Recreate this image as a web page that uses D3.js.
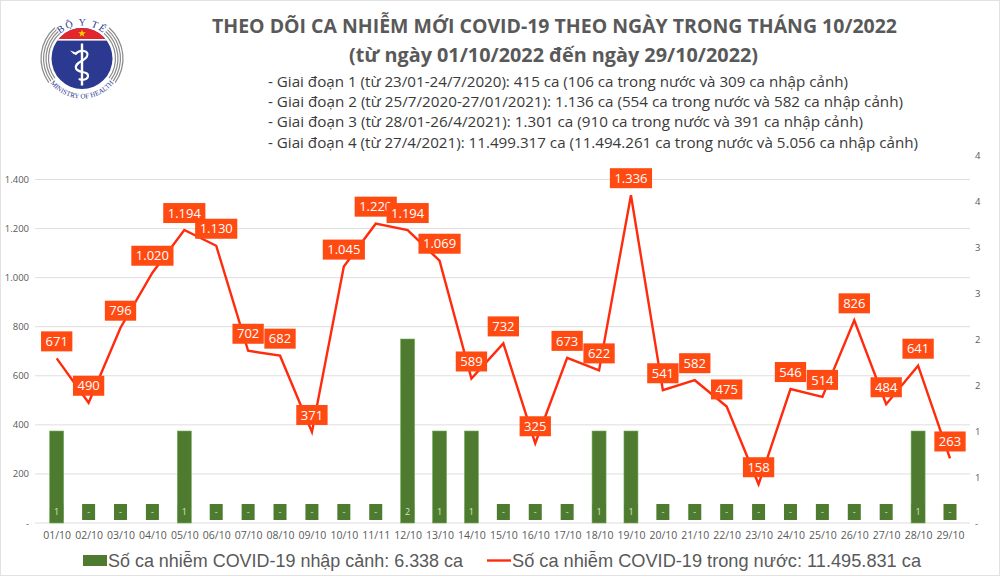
<!DOCTYPE html>
<html><head><meta charset="utf-8">
<script src="https://cdn.jsdelivr.net/npm/d3@7"></script>
<style>html,body{margin:0;padding:0;background:#fff;} svg{display:block}</style>
</head><body><svg id="c" width="1000" height="576"></svg>
<script>
// ---------- data ----------
const dates = ["01/10","02/10","03/10","04/10","05/10","06/10","07/10","08/10","09/10","10/10",
  "11/11","12/10","13/10","14/10","15/10","16/10","17/10","18/10","19/10","20/10",
  "21/10","22/10","23/10","24/10","25/10","26/10","27/10","28/10","29/10"];
const domestic = [671,490,796,1020,1194,1130,702,682,371,1045,1220,1194,1069,589,732,325,673,622,1336,541,582,475,158,546,514,826,484,641,263];
const imported = [1,0,0,0,1,0,0,0,0,0,0,2,1,1,0,0,0,1,1,0,0,0,0,0,0,0,0,1,0];
const leftTicks = [0,200,400,600,800,1000,1200,1400];
const leftTickLabels = ["-","200","400","600","800","1.000","1.200","1.400"];
const rightTicks = [0,0.5,1,1.5,2,2.5,3,3.5,4];
const rightTickLabels = ["-","1","1","2","2","3","3","4","4"];
const titleLines = ["THEO DÕI CA NHIỄM MỚI COVID-19 THEO NGÀY TRONG THÁNG 10/2022",
  "(từ ngày 01/10/2022 đến ngày 29/10/2022)"];
const phaseLines = [
  "- Giai đoạn 1 (từ 23/01-24/7/2020): 415 ca (106 ca trong nước và 309 ca nhập cảnh)",
  "- Giai đoạn 2 (từ 25/7/2020-27/01/2021): 1.136 ca (554 ca trong nước và 582 ca nhập cảnh)",
  "- Giai đoạn 3 (từ 28/01-26/4/2021): 1.301 ca (910 ca trong nước và 391 ca nhập cảnh)",
  "- Giai đoạn 4 (từ 27/4/2021): 11.499.317 ca (11.494.261 ca trong nước và 5.056 ca nhập cảnh)"];
const legendLabels = ["Số ca nhiễm COVID-19 nhập cảnh: 6.338 ca","Số ca nhiễm COVID-19 trong nước: 11.495.831 ca"];
const logoTexts = ["BỘ Y TẾ","MINISTRY OF HEALTH"];

// ---------- setup ----------
const svg = d3.select("#c");
const fmt = d3.formatLocale({decimal:",",thousands:".",grouping:[3],currency:["",""]}).format(",d");
const GREEN = "#4f7b30", RED_LINE = "#ff2b0c", RED_BOX = "#ff4a12", GRAY = "#595959", GRID = "#dedede";

svg.append("rect").attr("x",0.5).attr("y",0.5).attr("width",999).attr("height",575)
  .attr("fill","#fff").attr("stroke","#e2e2e2");

const x = d3.scalePoint().domain(dates).range([56.7, 950]);
const yL = d3.scaleLinear().domain([0,1400]).range([523,179.5]);
const yR = d3.scaleLinear().domain([0,4]).range([523,155]);

// ---------- titles ----------
const titleFont = "'Open Sans', 'Noto Sans', sans-serif";
svg.append("text").attr("x",212).attr("y",33).attr("font-family",titleFont).attr("font-weight","bold")
  .attr("font-size",19.5).attr("fill",GRAY).attr("textLength",685).attr("lengthAdjust","spacingAndGlyphs")
  .text(titleLines[0]);
svg.append("text").attr("x",349).attr("y",62).attr("font-family",titleFont).attr("font-weight","bold")
  .attr("font-size",19.5).attr("fill",GRAY).attr("textLength",409).attr("lengthAdjust","spacingAndGlyphs")
  .text(titleLines[1]);
const phaseEnds = [848,903,863,918];
const phaseBase = [87,107,127,148];
phaseLines.forEach((t,i)=>{
  svg.append("text").attr("x",268).attr("y",phaseBase[i]).attr("font-family",titleFont)
    .attr("font-size",14.5).attr("fill","#3a3a3a").attr("textLength",phaseEnds[i]-268)
    .attr("lengthAdjust","spacingAndGlyphs").text(t);
});

// ---------- logo ----------
const CX = 82, CY = 58.5;
const logo = svg.append("g").attr("transform",`translate(${CX},${CY})`);
const arc = d3.arc();
[33.5,36,38.5,41].forEach(r=>{
  [[-Math.PI*0.70,-Math.PI*0.23],[Math.PI*0.23,Math.PI*0.70]].forEach(([a0,a1])=>{
    logo.append("path").attr("d",arc({innerRadius:r-0.6,outerRadius:r+0.6,startAngle:a0,endAngle:a1}))
      .attr("fill","#8a8a8a");
  });
});
logo.append("circle").attr("r",30.5).attr("fill","#2b3990");
logo.append("clipPath").attr("id","capclip").append("circle").attr("r",30.5);
logo.append("rect").attr("x",-31).attr("y",-31).attr("width",62).attr("height",12)
  .attr("fill","#e3262b").attr("clip-path","url(#capclip)");
logo.append("rect").attr("x",-31).attr("y",-19.5).attr("width",62).attr("height",1.6)
  .attr("fill","#fff").attr("clip-path","url(#capclip)");
logo.append("path").attr("d",d3.symbol(d3.symbolStar,18)()).attr("transform","translate(0,-25)").attr("fill","#ffd400");
logo.append("line").attr("x1",0).attr("y1",-15).attr("x2",0).attr("y2",27).attr("stroke","#fff").attr("stroke-width",2.4);
logo.append("path").attr("d","M-7,-4 C-2,-10 8,-8 5,-2 C2,3 -8,4 -6,10 C-4,15 7,12 6,18 C5,22 -2,22 -3,20")
  .attr("fill","none").attr("stroke","#fff").attr("stroke-width",2.2);
logo.append("path").attr("d","M-8,-4 L-12,-8 L-6,-6 Z").attr("fill","#fff");
const defs = svg.append("defs");
const rt = 33, at = 40*Math.PI/180;
defs.append("path").attr("id","arcTop")
  .attr("d",`M ${CX-rt*Math.sin(at)},${CY-rt*Math.cos(at)} A ${rt} ${rt} 0 0 1 ${CX+rt*Math.sin(at)},${CY-rt*Math.cos(at)}`);
const rb = 40, ab = 62*Math.PI/180;
defs.append("path").attr("id","arcBot")
  .attr("d",`M ${CX-rb*Math.sin(ab)},${CY+rb*Math.cos(ab)} A ${rb} ${rb} 0 0 0 ${CX+rb*Math.sin(ab)},${CY+rb*Math.cos(ab)}`);
svg.append("text").attr("font-family","'Liberation Serif', serif").attr("font-size",10).attr("fill","#2b3990")
  .attr("letter-spacing",1.5)
  .append("textPath").attr("href","#arcTop").attr("startOffset","50%").attr("text-anchor","middle").text(logoTexts[0]);
svg.append("text").attr("font-family","'Liberation Serif', serif").attr("font-size",7).attr("fill","#2b3990")
  .append("textPath").attr("href","#arcBot").attr("startOffset","50%").attr("text-anchor","middle").text(logoTexts[1]);

// ---------- grid & axes ----------
const axisFont = "'Open Sans', 'Noto Sans', sans-serif";
svg.append("g").selectAll("line").data(leftTicks).join("line")
  .attr("x1",35).attr("x2",970).attr("y1",d=>yL(d)).attr("y2",d=>yL(d))
  .attr("stroke",GRID).attr("stroke-width",1);

const gL = svg.append("g").attr("transform","translate(29,0)")
  .call(d3.axisLeft(yL).tickValues(leftTicks).tickFormat((d,i)=>leftTickLabels[i]).tickSize(0).tickPadding(0));
gL.select(".domain").remove();
gL.selectAll("text").attr("font-family",axisFont).attr("font-size",9.5).attr("fill",GRAY);

const gR = svg.append("g").attr("transform","translate(975,0)")
  .call(d3.axisRight(yR).tickValues(rightTicks).tickFormat((d,i)=>rightTickLabels[i]).tickSize(0).tickPadding(0));
gR.select(".domain").remove();
gR.selectAll("text").attr("font-family",axisFont).attr("font-size",9.5).attr("fill",GRAY);

const gX = svg.append("g").attr("transform","translate(0,527)")
  .call(d3.axisBottom(x).tickSize(0).tickPadding(5));
gX.select(".domain").remove();
gX.selectAll("text").attr("font-family",axisFont).attr("font-size",10.5).attr("fill",GRAY);

// ---------- bars ----------
const barW = 14;
svg.append("g").selectAll("rect").data(imported.map((v,i)=>({v,d:dates[i]})).filter(o=>o.v>0)).join("rect")
  .attr("x",o=>x(o.d)-barW/2).attr("width",barW)
  .attr("y",o=>yR(o.v)).attr("height",o=>yR(0)-yR(o.v))
  .attr("fill",GREEN).attr("stroke","#6fae5a").attr("stroke-width",0.6);
const bl = svg.append("g").selectAll("g").data(imported.map((v,i)=>({v,d:dates[i]}))).join("g")
  .attr("transform",o=>`translate(${x(o.d)},512)`);
bl.append("rect").attr("x",-6.5).attr("y",-8).attr("width",13).attr("height",16).attr("fill",GREEN);
bl.append("text").attr("text-anchor","middle").attr("dy","0.35em").attr("font-family",axisFont)
  .attr("font-size",9).attr("fill","#d6e3cc").text(o=>o.v===0?"-":fmt(o.v));

// ---------- line ----------
const pts = domestic.map((v,i)=>({v,d:dates[i]}));
svg.append("path").datum(pts)
  .attr("d",d3.line().x(o=>x(o.d)).y(o=>yL(o.v)))
  .attr("fill","none").attr("stroke",RED_LINE).attr("stroke-width",2.4).attr("stroke-linejoin","miter");

const lab = svg.append("g").selectAll("g").data(pts).join("g")
  .attr("transform",o=>`translate(${x(o.d)},${yL(o.v)-17})`);
lab.each(function(o){
  const g = d3.select(this);
  const r = g.append("rect").attr("fill",RED_BOX);
  const t = g.append("text").attr("text-anchor","middle").attr("dy","0.36em")
    .attr("font-family",axisFont).attr("font-size",13).attr("fill","#fff").text(fmt(o.v));
  const w = t.node().getComputedTextLength()+9;
  r.attr("x",-w/2).attr("y",-10).attr("width",w).attr("height",20);
});

// ---------- legend ----------
const legFont = "'Liberation Sans', Arial, sans-serif";
svg.append("rect").attr("x",83).attr("y",555).attr("width",24).attr("height",11).attr("fill",GREEN);
svg.append("text").attr("x",108).attr("y",567).attr("font-family",legFont).attr("font-size",18.5)
  .attr("fill",GRAY).attr("textLength",355).attr("lengthAdjust","spacingAndGlyphs").text(legendLabels[0]);
svg.append("line").attr("x1",487).attr("x2",511).attr("y1",560.5).attr("y2",560.5)
  .attr("stroke",RED_LINE).attr("stroke-width",2.4);
svg.append("text").attr("x",512).attr("y",567).attr("font-family",legFont).attr("font-size",18.5)
  .attr("fill",GRAY).attr("textLength",409).attr("lengthAdjust","spacingAndGlyphs").text(legendLabels[1]);
</script></body></html>
